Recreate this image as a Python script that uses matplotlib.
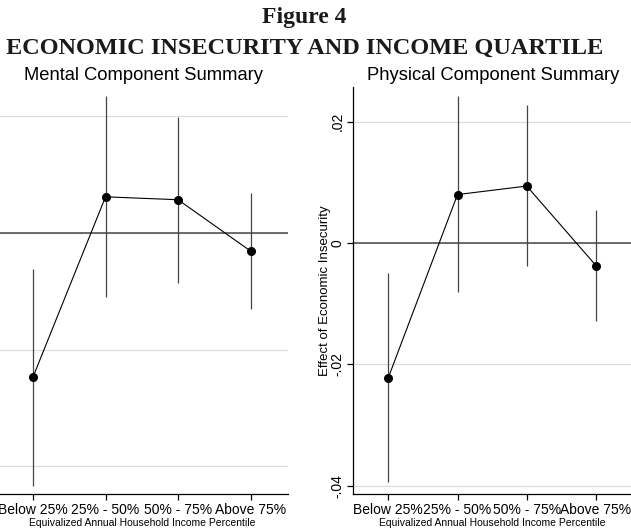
import numpy as np
import matplotlib
matplotlib.use("Agg")
import matplotlib.pyplot as plt

# categories along the x axis
cats = ["Below 25%", "25% - 50%", "50% - 75%", "Above 75%"]

# Mental Component Summary (left panel, y labels cropped away)
mcs_est = [-0.0247, 0.0062, 0.0057, -0.0031]
mcs_lo = [-0.0434, -0.0110, -0.0086, -0.0130]
mcs_hi = [-0.0061, 0.0235, 0.0199, 0.0068]

# Physical Component Summary (right panel)
pcs_est = [-0.0222, 0.0080, 0.0094, -0.0037]
pcs_lo = [-0.0394, -0.0081, -0.0038, -0.0129]
pcs_hi = [-0.0050, 0.0242, 0.0228, 0.0055]

yticks = [0.02, 0.0, -0.02, -0.04]
ytick_labels = [".02", "0", "-.02", "-.04"]

sans = "Liberation Sans"
serif = "Liberation Serif"

fig = plt.figure(figsize=(6.31, 5.31), dpi=100)

def panel(ax, est, lo, hi, ylim):
    x = np.arange(1, len(cats) + 1)
    for yt in yticks:
        ax.axhline(yt, color="#dcdcdc", lw=0.9, zorder=0)
    ax.axhline(0, color="#555555", lw=1.2, zorder=1)
    ax.vlines(x, lo, hi, color="#444444", lw=0.9, zorder=2)
    ax.plot(x, est, color="black", lw=0.8, marker="o", ms=5.5, zorder=3)
    ax.set_xlim(0.49, 4.51)
    ax.set_ylim(*ylim)
    ax.set_xticks(x)
    ax.set_xticklabels(cats, fontsize=10, family=sans)
    ax.set_yticks(yticks)
    ax.set_yticklabels(ytick_labels, fontsize=10, family=sans, rotation=90, va="center")
    for s in ["top", "right"]:
        ax.spines[s].set_visible(False)
    ax.spines["left"].set_linewidth(0.9)
    ax.spines["bottom"].set_linewidth(0.9)
    ax.tick_params(length=4, width=0.9, pad=2)
    ax.set_xlabel("Equivalized Annual Household Income Percentile", fontsize=7.5, family=sans, labelpad=1)

# left panel: its y axis lies just past the left edge of the picture
ax1 = fig.add_axes([-0.0063, 0.0693, 0.4620, 0.7665])
panel(ax1, mcs_est, mcs_lo, mcs_hi, (-0.0448, 0.0250))
ax1.tick_params(axis="y", labelleft=False)

ax2 = fig.add_axes([0.5594, 0.0693, 0.4410, 0.7665])
panel(ax2, pcs_est, pcs_lo, pcs_hi, (-0.0414, 0.0257))
ax2.set_ylabel("Effect of Economic Insecurity", fontsize=9.5, family=sans, labelpad=0)

fig.text(0.482, 1 - 23 / 531, "Figure 4", ha="center", va="baseline",
         fontsize=17, fontweight="bold", family=serif, color="#1a1a1a")
fig.text(0.482, 1 - 53.5 / 531, "ECONOMIC INSECURITY AND INCOME QUARTILE", ha="center",
         va="baseline", fontsize=17.5, fontweight="bold", family=serif, color="#1a1a1a")
fig.text(143 / 631, 1 - 80.5 / 531, "Mental Component Summary", ha="center", va="baseline",
         fontsize=13.2, family=sans)
fig.text(493 / 631, 1 - 80.5 / 531, "Physical Component Summary", ha="center", va="baseline",
         fontsize=13.2, family=sans)

fig.savefig("out.png", dpi=100)
